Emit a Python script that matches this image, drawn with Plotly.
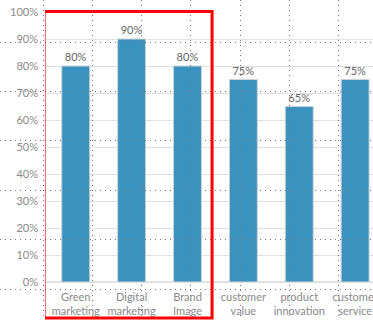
import plotly.graph_objects as go

categories = ["Green<br>marketing", "Digital<br>marketing", "Brand<br>Image",
              "customer<br>value", "product<br>innovation", "customer<br>service"]
values = [80, 90, 80, 75, 65, 75]
value_labels = ["80%", "90%", "80%", "75%", "65%", "75%"]
y_ticks = [0, 10, 20, 30, 40, 50, 60, 70, 80, 90, 100]
y_tick_labels = [f"{v}%" for v in y_ticks]

W, H = 373, 320
FONT = "Lato"

fig = go.Figure()
fig.add_trace(go.Bar(
    x=list(range(len(categories))), y=values, text=value_labels,
    textposition="outside", cliponaxis=False,
    textfont=dict(family=FONT, size=11, color="#666666"),
    marker=dict(color="#3a93bf", line=dict(color="#c9d3d8", width=1)),
    width=0.5, xaxis="x", yaxis="y", hoverinfo="skip",
))
# empty trace so the overlay dotted-grid axes are created
fig.add_trace(go.Scatter(x=[], y=[], xaxis="x2", yaxis="y2", showlegend=False))

left = 45 / W
fig.update_layout(
    width=W, height=H,
    margin=dict(l=0, r=0, t=0, b=0, autoexpand=False),
    paper_bgcolor="white", plot_bgcolor="rgba(0,0,0,0)",
    showlegend=False,
    xaxis=dict(domain=[left, 1], range=[-0.55, 5.32],
               tickvals=list(range(len(categories))), ticktext=categories,
               tickfont=dict(family=FONT, size=11, color="#8a8a8a"),
               showgrid=False, zeroline=False, showline=False, ticks="",
               ticklabelstandoff=7, ticklabeloverflow="allow",
               automargin=False, fixedrange=True),
    yaxis=dict(domain=[(H - 282) / H, (H - 12) / H], range=[0, 100],
               tickvals=y_ticks, ticktext=y_tick_labels,
               tickfont=dict(family=FONT, size=11, color="#8a8a8a"),
               showgrid=True, gridcolor="#e2e2e2", gridwidth=1,
               zeroline=True, zerolinecolor="#e2e2e2",
               showline=False, ticks="", ticklabelstandoff=6,
               automargin=False, fixedrange=True),
    xaxis2=dict(domain=[0, 1], range=[0, W], anchor="y2",
                tick0=43, dtick=49.25, showticklabels=False, ticks="",
                showgrid=True, griddash="1px,4px", gridcolor="#777777", gridwidth=1,
                zeroline=False, showline=False, automargin=False),
    yaxis2=dict(domain=[0, 1], range=[H, 0], anchor="x2",
                tick0=42, dtick=49.4, showticklabels=False, ticks="",
                showgrid=True, griddash="1px,4px", gridcolor="#777777", gridwidth=1,
                zeroline=False, showline=False, automargin=False),
    shapes=[dict(type="rect", xref="x", yref="paper",
                 x0=-0.567, x1=2.44, y0=2 / H, y1=1 - 11.5 / H,
                 line=dict(color="#ff0000", width=3), layer="above")],
)

fig.write_html("out.html")
